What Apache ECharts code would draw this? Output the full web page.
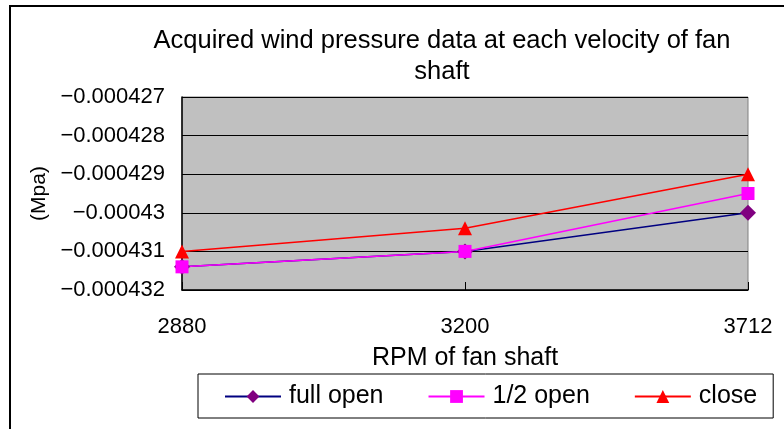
<!DOCTYPE html>
<html>
<head>
<meta charset="utf-8">
<script src="https://cdn.jsdelivr.net/npm/echarts@6/dist/echarts.min.js"></script>
<style>
  html, body { margin: 0; padding: 0; background: #ffffff; }
  #chart { width: 784px; height: 429px; }
</style>
</head>
<body>
<div id="chart"></div>
<script>
// Fan shaft speed (RPM) and measured wind pressure (Mpa) per damper setting
const rpmCategories = ['2880', '3200', '3712'];
const fullOpen = [-0.0004314, -0.000431, -0.00043];
const halfOpen = [-0.0004314, -0.000431, -0.0004295];
const closeVals = [-0.000431, -0.0004304, -0.000429];
const seriesNames = ['full open', '1/2 open', 'close'];

const FONT = "'Liberation Sans', Arial, sans-serif";

const chart = echarts.init(document.getElementById('chart'), null, { renderer: 'canvas' });

function fmtY(v) {
  const s = String(Number(Math.abs(v).toFixed(7)));
  return (v < 0 ? '\u2212' : '') + s;
}

chart.setOption({
  animation: false,
  backgroundColor: '#ffffff',
  textStyle: { fontFamily: FONT },
  graphic: [{
    type: 'rect',
    shape: { x: 10, y: 6, width: 800, height: 450 },
    style: { fill: 'none', stroke: '#000000', lineWidth: 2 },
    silent: true,
    z: -1
  }],
  title: {
    text: 'Acquired wind pressure data at each velocity of fan\nshaft',
    left: 437,
    textAlign: 'center',
    top: 20,
    textStyle: { fontFamily: FONT, fontSize: 25.5, fontWeight: 'normal', color: '#000000', lineHeight: 31 }
  },
  grid: {
    left: 182, top: 97, width: 566, height: 193,
    show: true,
    backgroundColor: '#c0c0c0',
    borderColor: '#808080',
    borderWidth: 1
  },
  legend: {
    data: seriesNames,
    left: 198,
    top: 374,
    padding: [10, 16, 9, 26],
    itemGap: 44,
    itemWidth: 56,
    itemHeight: 16,
    borderColor: '#000000',
    borderWidth: 1,
    textStyle: { fontFamily: FONT, fontSize: 25, color: '#000000', padding: [0, 0, 0, 3] }
  },
  xAxis: {
    type: 'category',
    data: rpmCategories,
    boundaryGap: false,
    name: 'RPM of fan shaft',
    nameLocation: 'middle',
    nameGap: 56,
    nameTextStyle: { fontFamily: FONT, fontSize: 25, color: '#000000' },
    axisLine: { lineStyle: { color: '#000000', width: 1.5 } },
    axisTick: { inside: true, length: 8, lineStyle: { color: '#000000' } },
    axisLabel: { margin: 26, fontFamily: FONT, fontSize: 22, color: '#000000' },
    splitLine: { show: false }
  },
  yAxis: {
    type: 'value',
    min: -0.000432,
    max: -0.000427,
    interval: 0.000001,
    name: '(Mpa)',
    nameLocation: 'middle',
    nameGap: 131,
    nameRotate: 90,
    nameTextStyle: { fontFamily: FONT, fontSize: 21, color: '#000000' },
    axisLine: { show: true, lineStyle: { color: '#000000', width: 1.5 } },
    axisTick: { show: true, inside: true, length: 8, lineStyle: { color: '#000000' } },
    axisLabel: { margin: 17, fontFamily: FONT, fontSize: 22, color: '#000000', formatter: fmtY },
    splitLine: { show: true, lineStyle: { color: '#000000', width: 1 } }
  },
  series: [
    {
      name: seriesNames[0], type: 'line', data: fullOpen,
      symbol: 'diamond', symbolSize: 16,
      itemStyle: { color: '#800080' },
      lineStyle: { color: '#000080', width: 1.5 }
    },
    {
      name: seriesNames[1], type: 'line', data: halfOpen,
      symbol: 'rect', symbolSize: 13,
      itemStyle: { color: '#ff00ff' },
      lineStyle: { color: '#ff00ff', width: 1.5 }
    },
    {
      name: seriesNames[2], type: 'line', data: closeVals,
      symbol: 'triangle', symbolSize: 14,
      itemStyle: { color: '#ff0000' },
      lineStyle: { color: '#ff0000', width: 1.5 }
    }
  ]
});
</script>
</body>
</html>
